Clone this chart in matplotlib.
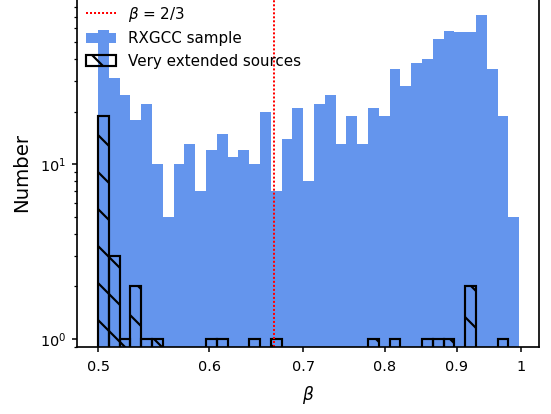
import numpy as np
import matplotlib
matplotlib.use('Agg')
import matplotlib.pyplot as plt
from matplotlib.ticker import NullFormatter

# beta histogram, log-spaced bins between the smallest and largest beta
beta_min = 0.5
beta_max = 0.997
n_bins = 39

sample_counts = [59, 31, 25, 18, 22, 10, 5, 10, 13, 7, 12, 15, 11, 12, 10, 20, 7, 14, 21, 8,
                 22, 25, 13, 19, 13, 21, 19, 35, 28, 38, 40, 52, 58, 57, 57, 72, 35, 19, 5]
extended_counts = [19, 3, 1, 2, 1, 1, 0, 0, 0, 0, 1, 1, 0, 0, 1, 0, 1, 0, 0, 0,
                   0, 0, 0, 0, 0, 1, 0, 1, 0, 0, 1, 1, 1, 0, 2, 0, 0, 1, 0]

beta_ref = 2 / 3
xtick_vals = [0.5, 0.6, 0.7, 0.8, 0.9, 1.0]
xtick_labels = ['0.5', '0.6', '0.7', '0.8', '0.9', '1']

DPI = 111
W, H = 551, 414

bins = np.logspace(np.log10(beta_min), np.log10(beta_max), n_bins + 1)
centers = np.sqrt(bins[:-1] * bins[1:])

plt.rcParams.update({
    'font.size': 9.4,
    'axes.linewidth': 1.1,
    'xtick.major.size': 3.2, 'ytick.major.size': 3.2,
    'xtick.minor.size': 2.2, 'ytick.minor.size': 2.2,
    'xtick.major.width': 1.0, 'ytick.major.width': 1.0,
    'xtick.minor.width': 0.8, 'ytick.minor.width': 0.8,
    'xtick.major.pad': 5.0, 'ytick.major.pad': 3.6,
    'hatch.linewidth': 1.4,
})

fig = plt.figure(figsize=(W / DPI, H / DPI), dpi=DPI)
ax = fig.add_axes([77 / W, 67 / H, 461.5 / W, 350 / H])

ax.axvline(beta_ref, color='red', ls=(0, (1, 1)), lw=1.3, label=r'$\beta$ = 2/3')
ax.hist(centers, bins=bins, weights=sample_counts, color='cornflowerblue',
        label='RXGCC sample')
ax.hist(centers, bins=bins, weights=extended_counts, fill=False, edgecolor='k',
        lw=1.4, hatch='\\', label='Very extended sources')

ax.set_xscale('log')
ax.set_yscale('log')
ax.set_xlim(0.48302, 1.02909)
ax.set_ylim(0.9, 90.7)
ax.set_xticks(xtick_vals)
ax.set_xticklabels(xtick_labels)
ax.xaxis.set_minor_formatter(NullFormatter())

ax.set_xlabel(r'$\beta$', fontsize=11, labelpad=7)
ax.set_ylabel('Number', fontsize=12.8, labelpad=6)

ax.legend(loc='upper left', frameon=False, fontsize=9.8,
          bbox_to_anchor=(0.0065, 0.9957), borderaxespad=0)

fig.savefig('out.png', dpi=DPI)
